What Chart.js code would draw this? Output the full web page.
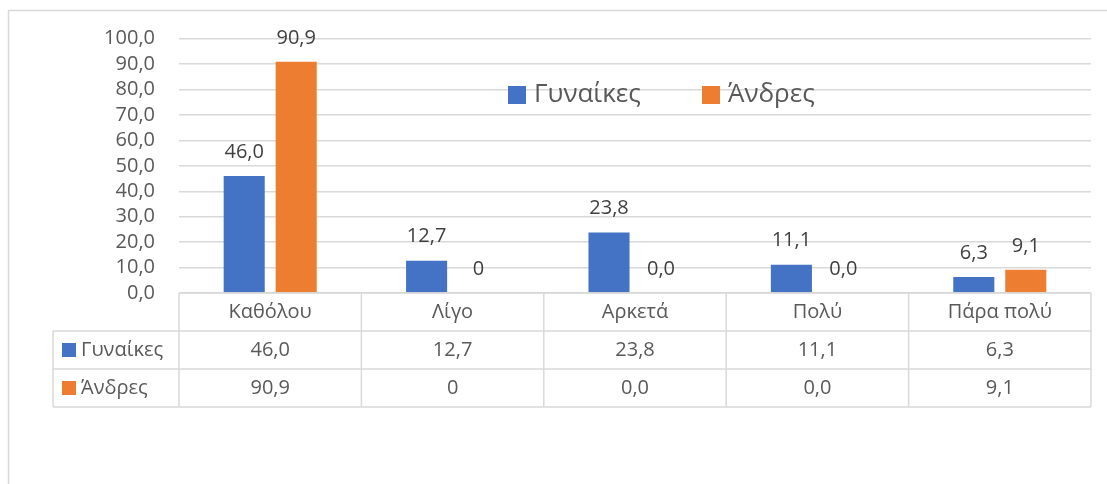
<!DOCTYPE html>
<html>
<head>
<meta charset="utf-8">
<script src="https://cdn.jsdelivr.net/npm/chart.js@4/dist/chart.umd.min.js"></script>
<style>
html,body{margin:0;padding:0;background:#fff;}
#wrap{width:1107px;height:484px;position:relative;}
</style>
</head>
<body>
<div id="wrap"><canvas id="c" width="1107" height="484"></canvas></div>
<script>
const categories = ['Καθόλου', 'Λίγο', 'Αρκετά', 'Πολύ', 'Πάρα πολύ'];
const seriesNames = ['Γυναίκες', 'Άνδρες'];
const women = [46.0, 12.7, 23.8, 11.1, 6.3];
const men = [90.9, 0, 0.0, 0.0, 9.1];
const womenLabels = ['46,0', '12,7', '23,8', '11,1', '6,3'];
const menLabels = ['90,9', '0', '0,0', '0,0', '9,1'];
const colors = ['#4472C4', '#ED7D31'];

const FONT = '"Open Sans", "Noto Sans", sans-serif';
const TXT = '#595959';
const LINE = '#d9d9d9';

const extras = {
  id: 'extras',
  afterDraw(chart) {
    const ctx = chart.ctx;
    const xs = chart.scales.x;
    const ys = chart.scales.y;
    const area = chart.chartArea;
    const labels = [womenLabels, menLabels];
    ctx.save();
    // outer border
    ctx.strokeStyle = LINE;
    ctx.lineWidth = 1.5;
    ctx.strokeRect(8.5, 10.5, 1120, 500);

    // data labels
    ctx.fillStyle = '#404040';
    ctx.font = '20px ' + FONT;
    ctx.textAlign = 'center';
    ctx.textBaseline = 'middle';
    for (let d = 0; d < 2; d++) {
      const meta = chart.getDatasetMeta(d);
      meta.data.forEach((bar, i) => {
        ctx.fillText(labels[d][i], bar.x, bar.y - 24);
      });
    }

    // data table
    const catW = (xs.getPixelForValue(1) - xs.getPixelForValue(0));
    const top = ys.getPixelForValue(0);
    const rowH = 38;
    const r1 = top + rowH, r2 = top + 2 * rowH, r3 = top + 3 * rowH;
    const tableLeft = 53;
    ctx.strokeStyle = LINE;
    ctx.lineWidth = 1.5;
    ctx.beginPath();
    ctx.moveTo(area.left, top); ctx.lineTo(area.right, top);
    ctx.moveTo(tableLeft, r1); ctx.lineTo(area.right, r1);
    ctx.moveTo(tableLeft, r2); ctx.lineTo(area.right, r2);
    ctx.moveTo(tableLeft, r3); ctx.lineTo(area.right, r3);
    ctx.moveTo(tableLeft, r1); ctx.lineTo(tableLeft, r3);
    for (let i = 0; i <= categories.length; i++) {
      const x = xs.getPixelForValue(0) - catW / 2 + i * catW;
      ctx.moveTo(x, top); ctx.lineTo(x, r3);
    }
    ctx.stroke();

    ctx.fillStyle = TXT;
    ctx.font = '20px ' + FONT;
    ctx.textAlign = 'center';
    ctx.textBaseline = 'middle';
    categories.forEach((c, i) => {
      const x = xs.getPixelForValue(i);
      ctx.fillText(c, x, top + rowH / 2);
      ctx.fillText(womenLabels[i], x, r1 + rowH / 2);
      ctx.fillText(menLabels[i], x, r2 + rowH / 2);
    });
    ctx.textAlign = 'left';
    [r1, r2].forEach((ry, k) => {
      ctx.fillStyle = colors[k];
      ctx.fillRect(62, ry + rowH / 2 - 7, 14, 14);
      ctx.fillStyle = TXT;
      ctx.fillText(seriesNames[k], 81, ry + rowH / 2);
    });

    // legend
    ctx.font = '26px ' + FONT;
    const legX = [508, 702];
    const legY = 95;
    seriesNames.forEach((n, k) => {
      ctx.fillStyle = colors[k];
      ctx.fillRect(legX[k], legY - 9, 18, 18);
      ctx.fillStyle = TXT;
      ctx.fillText(n, legX[k] + 26, legY);
    });
    ctx.restore();
  }
};

new Chart(document.getElementById('c'), {
  type: 'bar',
  data: {
    labels: categories,
    datasets: [
      { label: seriesNames[0], data: women, backgroundColor: colors[0], categoryPercentage: 0.57, barPercentage: 0.79 },
      { label: seriesNames[1], data: men, backgroundColor: colors[1], categoryPercentage: 0.57, barPercentage: 0.79 }
    ]
  },
  options: {
    responsive: false,
    animation: false,
    devicePixelRatio: 1,
    layout: { padding: { left: 0, top: 38.7, right: 16, bottom: 191 } },
    plugins: { legend: { display: false }, tooltip: { enabled: false } },
    scales: {
      x: { display: false },
      y: {
        min: 0, max: 100,
        afterFit(scale) { scale.width = 179; },
        border: { display: false },
        grid: { color: LINE, lineWidth: 1.5, drawTicks: false },
        ticks: {
          stepSize: 10,
          autoSkip: false,
          padding: 24,
          color: TXT,
          font: { family: FONT, size: 20 },
          callback: v => v.toFixed(1).replace('.', ',')
        }
      }
    }
  },
  plugins: [extras]
});
</script>
</body>
</html>
